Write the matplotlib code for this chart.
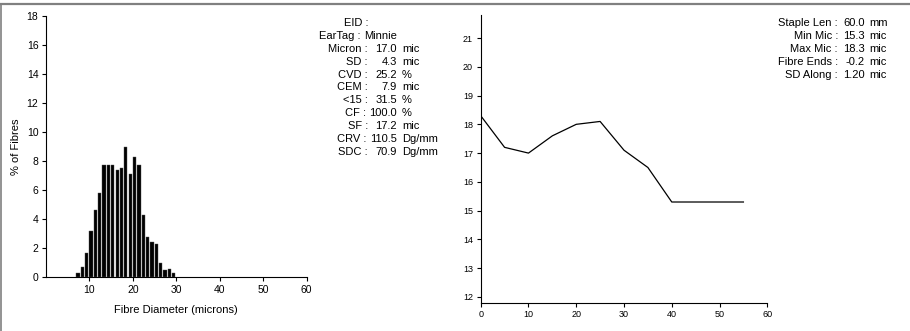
import matplotlib
matplotlib.use("Agg")
import matplotlib.pyplot as plt  # noqa: E402
from matplotlib.lines import Line2D  # noqa: E402
from matplotlib.transforms import IdentityTransform  # noqa: E402

plt.rcParams["font.family"] = ["Liberation Sans", "DejaVu Sans"]

# ---------------------------------------------------------------------------
# Data
# ---------------------------------------------------------------------------

# fibre diameter histogram (microns -> % of fibres)
diam_bins = [7, 8, 9, 10, 11, 12, 13, 14, 15, 16, 17, 18, 19, 20, 21, 22,
             23, 24, 25, 26, 27, 28, 29]
diam_pct = [0.3, 0.7, 1.7, 3.2, 4.6, 5.8, 7.7, 7.7, 7.7, 7.4, 7.5, 9.0,
            7.1, 8.3, 7.7, 4.3, 2.8, 2.4, 2.3, 1.0, 0.5, 0.6, 0.3]

# micron profile along the staple
along_pos = [0, 5, 10, 15, 20, 25, 30, 35, 40, 45, 50, 55]
along_mic = [18.3, 17.2, 17.0, 17.6, 18.0, 18.1, 17.1, 16.5, 15.3, 15.3,
             15.3, 15.3]

stat_labels = ["EID", "EarTag", "Micron", "SD", "CVD", "CEM", "<15", "CF",
               "SF", "CRV", "SDC"]
stat_values = ["", "Minnie", "17.0", "4.3", "25.2", "7.9", "31.5", "100.0",
               "17.2", "110.5", "70.9"]
stat_units = ["", "", "mic", "mic", "%", "mic", "%", "%", "mic", "Dg/mm",
              "Dg/mm"]

staple_labels = ["Staple Len", "Min Mic", "Max Mic", "Fibre Ends", "SD Along"]
staple_values = ["60.0", "15.3", "18.3", "-0.2", "1.20"]
staple_units = ["mm", "mic", "mic", "mic", "mic"]

W, H = 910, 331
TXT = 8


def text_block(fig, renderer, labels, values, units,
               x_colon, x_num, x_unit, y_top, dy):
    """Draw 'label : value unit' rows; colon shifts left only if the value is long."""
    for i, (lab, val, unit) in enumerate(zip(labels, values, units)):
        y = H - (y_top + i * dy)
        left = x_num
        if val:
            t = fig.text(x_num, y, val, ha="right", va="center", fontsize=TXT,
                         transform=IdentityTransform())
            left = t.get_window_extent(renderer).x0
        xc = min(x_colon, left - 3.5)
        fig.text(xc, y, f"{lab} :", ha="right", va="center", fontsize=TXT,
                 transform=IdentityTransform())
        if unit:
            fig.text(x_unit, y, unit, ha="left", va="center", fontsize=TXT,
                     transform=IdentityTransform())


fig = plt.figure(figsize=(W / 100, H / 100), dpi=100)
renderer = fig.canvas.get_renderer()

# --- histogram --------------------------------------------------------------
ax1 = fig.add_axes([46 / W, 1 - 277.3 / H, 260.7 / W, 261.6 / H])
ax1.bar(diam_bins, diam_pct, width=0.75, align="edge", color="black",
        edgecolor="#555555", linewidth=0.3)
ax1.set_xlim(0, 60)
ax1.set_ylim(0, 18)
ax1.set_xticks(range(10, 61, 10))
ax1.set_yticks(range(0, 19, 2))
ax1.set_xlabel("Fibre Diameter (microns)", fontsize=8, labelpad=7)
ax1.set_ylabel("% of Fibres", fontsize=8, labelpad=4)
ax1.tick_params(labelsize=7.5, length=3, width=0.8, pad=2.5)

# --- micron along staple ---------------------------------------------------
ax2 = fig.add_axes([480.7 / W, 1 - 302.7 / H, 286.6 / W, 287.7 / H])
ax2.plot(along_pos, along_mic, color="black", linewidth=0.9)
ax2.set_xlim(0, 60)
ax2.set_ylim(11.8, 21.8)
ax2.set_xticks(range(0, 61, 10))
ax2.set_yticks(range(12, 22))
ax2.tick_params(labelsize=6.5, length=3, width=0.8, pad=2.5)

for ax in (ax1, ax2):
    for side in ("top", "right"):
        ax.spines[side].set_visible(False)
    for side in ("left", "bottom"):
        ax.spines[side].set_linewidth(0.8)

text_block(fig, renderer, stat_labels, stat_values, stat_units,
           x_colon=368, x_num=397, x_unit=402, y_top=23, dy=12.9)
text_block(fig, renderer, staple_labels, staple_values, staple_units,
           x_colon=838, x_num=865, x_unit=869, y_top=23.5, dy=12.9)

# report frame: grey rule along the top and left edge
fig.add_artist(Line2D([0, 1], [1 - 3.5 / H] * 2, color="#808080",
                      linewidth=1.6, transform=fig.transFigure))
fig.add_artist(Line2D([1.2 / W] * 2, [0, 1 - 3.5 / H], color="#808080",
                      linewidth=1.2, transform=fig.transFigure))

fig.savefig("out.png", dpi=100)
